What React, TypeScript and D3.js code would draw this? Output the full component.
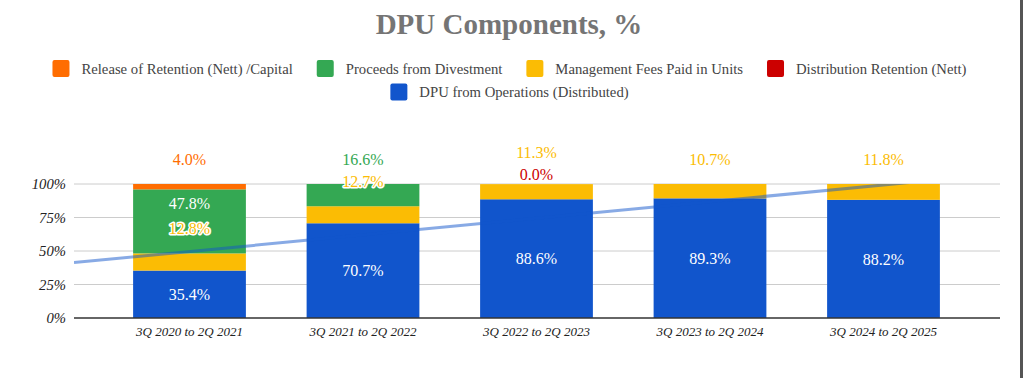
import React from "react";
import * as d3 from "d3";

// ---------- data ----------
const categories = [
  "3Q 2020 to 2Q 2021",
  "3Q 2021 to 2Q 2022",
  "3Q 2022 to 2Q 2023",
  "3Q 2023 to 2Q 2024",
  "3Q 2024 to 2Q 2025",
];
const dpuOperations: (number | null)[] = [35.4, 70.7, 88.6, 89.3, 88.2];
const distributionRetention: (number | null)[] = [null, null, 0.0, null, null];
const managementFees: (number | null)[] = [12.8, 12.7, 11.3, 10.7, 11.8];
const divestmentProceeds: (number | null)[] = [47.8, 16.6, null, null, null];
const releaseOfRetention: (number | null)[] = [4.0, null, null, null, null];
const yTicks = [0, 25, 50, 75, 100];

// stack order bottom -> top
const seriesNames = [
  "DPU from Operations (Distributed)",
  "Distribution Retention (Nett)",
  "Management Fees Paid in Units",
  "Proceeds from Divestment",
  "Release of Retention (Nett) /Capital",
];
const seriesValues = [
  dpuOperations,
  distributionRetention,
  managementFees,
  divestmentProceeds,
  releaseOfRetention,
];
const seriesColors = ["#1155cc", "#cc0000", "#fbbc04", "#34a853", "#ff6d01"];
const legendRows = [
  [4, 3, 2, 1],
  [0],
];

const FONT = '"Liberation Serif", "Times New Roman", Times, serif';
const W = 1024;
const H = 378;
const plot = { left: 74, right: 1000, top: 184, bottom: 318 };

function measure(text: string, font: string): number {
  const c = document.createElement("canvas").getContext("2d");
  if (!c) return text.length * 7;
  c.font = font;
  return c.measureText(text).width;
}

export default function App() {
  const x = d3
    .scaleBand<string>()
    .domain(categories)
    .range([102.75, 970.25])
    .paddingInner(0.35)
    .paddingOuter(0.175);
  const y = d3.scaleLinear().domain([0, 100]).range([plot.bottom, plot.top]);
  const bw = x.bandwidth();
  const step = x.step();

  const rows = categories.map((c, i) => {
    const r: any = { cat: c };
    seriesNames.forEach((s, k) => (r[s] = seriesValues[k][i] ?? 0));
    return r;
  });
  const stacked = d3.stack<any>().keys(seriesNames)(rows);

  // labels
  type Lbl = { x: number; y: number; text: string; fill: string; halo: boolean; key: string };
  const labels: Lbl[] = [];
  categories.forEach((c, i) => {
    const cx = (x(c) ?? 0) + bw / 2;
    let lastOutside = Infinity;
    seriesNames.forEach((s, k) => {
      const v = seriesValues[k][i];
      if (v === null || v === undefined) return;
      const [y0v, y1v] = stacked[k][i];
      const top = y(y1v);
      const bottom = y(y0v);
      const h = bottom - top;
      const text = v.toFixed(1) + "%";
      if (k === 0) {
        labels.push({ x: cx, y: (top + bottom) / 2 + 5.6, text, fill: "#ffffff", halo: false, key: `${i}-${k}` });
      } else if (h >= 40) {
        labels.push({ x: cx, y: top + 20, text, fill: "#ffffff", halo: false, key: `${i}-${k}` });
      } else {
        let by = top - 19;
        if (by > lastOutside - 22) by = lastOutside - 22;
        lastOutside = by;
        labels.push({ x: cx, y: by, text, fill: seriesColors[k], halo: true, key: `${i}-${k}` });
      }
    });
  });

  // linear trendline on DPU from Operations
  const pts = dpuOperations
    .map((v, i) => ({ u: i, v }))
    .filter((p) => p.v !== null) as { u: number; v: number }[];
  const mu = d3.mean(pts, (p) => p.u) ?? 0;
  const mv = d3.mean(pts, (p) => p.v) ?? 0;
  const slope =
    d3.sum(pts, (p) => (p.u - mu) * (p.v - mv)) / d3.sum(pts, (p) => (p.u - mu) ** 2);
  const intercept = mv - slope * mu;
  const c0 = (x(categories[0]) ?? 0) + bw / 2;
  const uAt = (px: number) => (px - c0) / step;
  const trend = d3.line<number>()
    .x((px) => px)
    .y((px) => y(intercept + slope * uAt(px)));
  const trendPath = trend([plot.left, plot.right]) ?? "";

  // legend
  const legendFont = `14.7px ${FONT}`;
  const legendCY = [68.5, 92];
  const legendCX = 509.5;
  const sw = 17;
  const legendItems: { x: number; cy: number; k: number }[] = [];
  legendRows.forEach((row, ri) => {
    const widths = row.map((k) => sw + 12 + measure(seriesNames[k], legendFont));
    const total = d3.sum(widths) + 24 * (row.length - 1);
    let cur = legendCX - total / 2;
    row.forEach((k, j) => {
      legendItems.push({ x: cur, cy: legendCY[ri], k });
      cur += widths[j] + 24;
    });
  });

  return (
    <svg
      width={W}
      height={H}
      style={{ position: "absolute", left: 0, top: 0, display: "block", background: "#fff" }}
      fontFamily={FONT}
    >
      <defs>
        <clipPath id="plotClip">
          <rect x={plot.left} y={plot.top} width={plot.right - plot.left} height={plot.bottom - plot.top} />
        </clipPath>
      </defs>
      <rect x={0} y={0} width={W} height={H} fill="#ffffff" />
      <text x={509} y={34} textAnchor="middle" fontSize={29} fontWeight="bold" fill="#757575">
        DPU Components, %
      </text>

      {legendItems.map((it) => (
        <g key={it.k}>
          <rect x={it.x} y={it.cy - sw / 2} width={sw} height={sw} rx={2} fill={seriesColors[it.k]} />
          <text x={it.x + sw + 12} y={it.cy + 5.2} fontSize={14.7} fill="#444">
            {seriesNames[it.k]}
          </text>
        </g>
      ))}

      {yTicks.filter((t) => t > 0).map((t) => (
        <line key={t} x1={plot.left} x2={plot.right} y1={y(t)} y2={y(t)} stroke="#cccccc" strokeWidth={1} />
      ))}
      {yTicks.map((t) => (
        <text key={t} x={66} y={y(t)} dy="0.35em" textAnchor="end" fontSize={14.7} fontStyle="italic" fill="#222">
          {t + "%"}
        </text>
      ))}

      {stacked.map((layer, k) => (
        <g key={k} fill={seriesColors[k]}>
          {layer.map((d, i) =>
            d[1] - d[0] > 0 ? (
              <rect
                key={i}
                x={x(categories[i])}
                y={y(d[1])}
                width={bw}
                height={y(d[0]) - y(d[1])}
              />
            ) : null
          )}
        </g>
      ))}

      <line x1={plot.left} x2={plot.right} y1={y(0)} y2={y(0)} stroke="#333" strokeWidth={1.5} />

      <path
        d={trendPath}
        clipPath="url(#plotClip)"
        fill="none"
        stroke="#1155cc"
        strokeOpacity={0.5}
        strokeWidth={3}
      />

      {labels.map((l) => (
        <text
          key={l.key}
          x={l.x}
          y={l.y}
          textAnchor="middle"
          fontSize={16}
          fill={l.fill}
          stroke={l.halo ? "#ffffff" : "none"}
          strokeWidth={l.halo ? 3 : 0}
          strokeLinejoin="round"
          paintOrder="stroke"
        >
          {l.text}
        </text>
      ))}

      {categories.map((c) => (
        <text key={c} x={(x(c) ?? 0) + bw / 2} y={336} textAnchor="middle" fontSize={13} fontStyle="italic" fill="#222">
          {c}
        </text>
      ))}

      <rect x={1020} y={0} width={3} height={H} fill="#555" />
    </svg>
  );
}
